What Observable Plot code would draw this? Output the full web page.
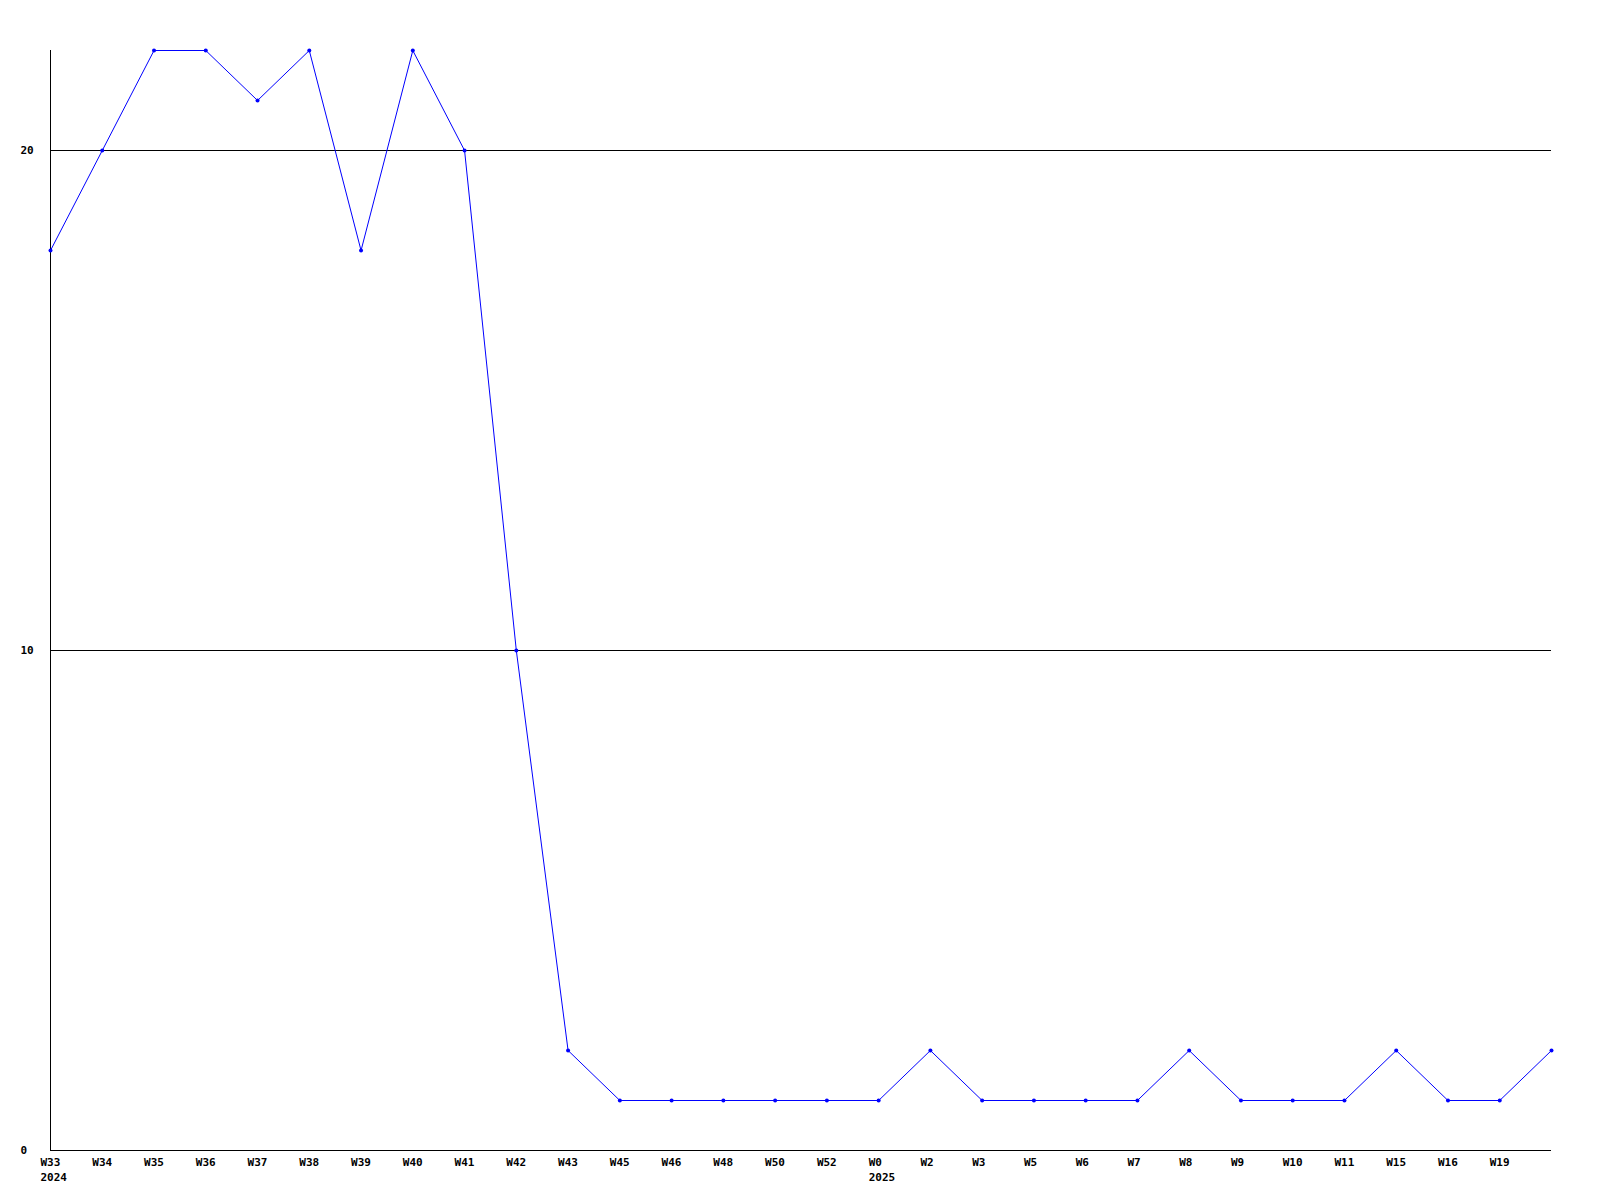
<!DOCTYPE html>
<html>
<head>
<meta charset="utf-8">
<script src="https://cdn.jsdelivr.net/npm/d3@7"></script>
<script src="https://cdn.jsdelivr.net/npm/@observablehq/plot@0.6"></script>
<style>
  html, body { margin: 0; padding: 0; background: #fff; }
  #chart svg { display: block; }
</style>
</head>
<body>
<div id="chart"></div>
<script>
const weeks = ["W33","W34","W35","W36","W37","W38","W39","W40","W41","W42","W43","W45","W46","W48","W50","W52","W0","W2","W3","W5","W6","W7","W8","W9","W10","W11","W15","W16","W19",""];
const values = [18,20,22,22,21,22,18,22,20,10,2,1,1,1,1,1,1,2,1,1,1,1,2,1,1,1,2,1,1,2];
const yearLabels = ["2024","2025"];
const yearWeeks = ["W33","W0"];
const yTicks = [0,10,20];
const gridLines = [10,20];

const data = weeks.map((w, i) => ({idx: i, week: w, value: values[i]}));
const years = yearLabels.map((y, i) => ({idx: weeks.indexOf(yearWeeks[i]), year: y}));
const xTicks = weeks.map((w, i) => i);

const font = {fontFamily: "'DejaVu Sans Mono', monospace", fontWeight: "bold", fontSize: "11px"};

const chart = Plot.plot({
  width: 1600,
  height: 1200,
  marginTop: 50,
  marginBottom: 50,
  marginLeft: 50,
  marginRight: 49,
  style: {background: "#fff", ...font, color: "#000"},
  x: {type: "linear", domain: [0, weeks.length - 1]},
  y: {domain: [0, 22]},
  marks: [
    Plot.ruleY(gridLines, {stroke: "#000", strokeWidth: 1}),
    Plot.ruleY([0], {stroke: "#000", strokeWidth: 1}),
    Plot.frame({anchor: "left", stroke: "#000", strokeWidth: 1}),
    Plot.axisY({ticks: yTicks, tickSize: 0, tickPadding: 30, textAnchor: "start", label: null, fill: "#000", fontWeight: "bold"}),
    Plot.axisX({ticks: xTicks, tickFormat: i => weeks[i], tickSize: 0, tickPadding: 8, textAnchor: "start", dx: -10, label: null, fill: "#000", fontWeight: "bold"}),
    Plot.text(years, {x: "idx", text: "year", frameAnchor: "bottom", dy: 27, textAnchor: "start", dx: -10, fill: "#000", fontWeight: "bold", lineAnchor: "middle"}),
    Plot.line(data, {x: "idx", y: "value", stroke: "#0000ff", strokeWidth: 1}),
    Plot.dot(data, {x: "idx", y: "value", r: 2, fill: "#0000ff", stroke: "none"})
  ]
});
document.getElementById("chart").appendChild(chart);
</script>
</body>
</html>
